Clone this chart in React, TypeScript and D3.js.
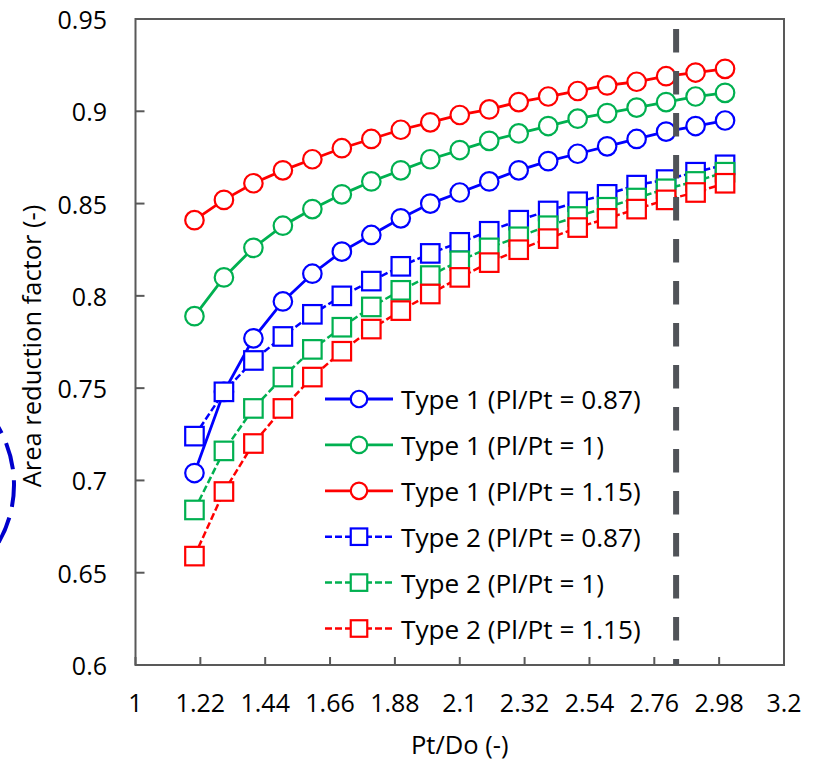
import React from "react";
import * as d3 from "d3";

const xValues = [1.2, 1.3, 1.4, 1.5, 1.6, 1.7, 1.8, 1.9, 2.0, 2.1, 2.2, 2.3, 2.4, 2.5, 2.6, 2.7, 2.8, 2.9, 3.0];
const type1_087 = [0.704, 0.748, 0.777, 0.797, 0.812, 0.824, 0.833, 0.842, 0.850, 0.856, 0.862, 0.868, 0.873, 0.877, 0.881, 0.885, 0.889, 0.892, 0.895];
const type1_1 = [0.789, 0.810, 0.826, 0.838, 0.847, 0.855, 0.862, 0.868, 0.874, 0.879, 0.884, 0.888, 0.892, 0.896, 0.899, 0.902, 0.905, 0.908, 0.910];
const type1_115 = [0.841, 0.852, 0.861, 0.868, 0.874, 0.880, 0.885, 0.890, 0.894, 0.898, 0.901, 0.905, 0.908, 0.911, 0.914, 0.916, 0.919, 0.921, 0.923];
const type2_087 = [0.724, 0.748, 0.765, 0.778, 0.790, 0.800, 0.808, 0.816, 0.823, 0.829, 0.835, 0.841, 0.846, 0.851, 0.855, 0.860, 0.863, 0.867, 0.871];
const type2_1 = [0.684, 0.716, 0.739, 0.756, 0.771, 0.783, 0.794, 0.803, 0.811, 0.819, 0.826, 0.832, 0.838, 0.843, 0.848, 0.853, 0.858, 0.862, 0.867];
const type2_115 = [0.659, 0.694, 0.720, 0.739, 0.756, 0.770, 0.782, 0.792, 0.801, 0.810, 0.818, 0.825, 0.831, 0.837, 0.842, 0.847, 0.852, 0.856, 0.861];

const seriesNames = [
  "Type 1 (Pl/Pt = 0.87)",
  "Type 1 (Pl/Pt = 1)",
  "Type 1 (Pl/Pt = 1.15)",
  "Type 2 (Pl/Pt = 0.87)",
  "Type 2 (Pl/Pt = 1)",
  "Type 2 (Pl/Pt = 1.15)",
];
const seriesValues = [type1_087, type1_1, type1_115, type2_087, type2_1, type2_115];
const seriesColors = ["#0000FF", "#00B050", "#FF0000", "#0000FF", "#00B050", "#FF0000"];
const seriesType = ["circle", "circle", "circle", "square", "square", "square"];

const xTicks = [1, 1.22, 1.44, 1.66, 1.88, 2.1, 2.32, 2.54, 2.76, 2.98, 3.2];
const yTicks = [0.6, 0.65, 0.7, 0.75, 0.8, 0.85, 0.9, 0.95];
const thresholdX = 2.834;

const W = 821;
const H = 763;
const left = 135.5;
const right = 784;
const top = 19;
const bottom = 665;
const FONT = "'Open Sans', sans-serif";
const AXIS = "#595959";

export default function App() {
  const x = d3.scaleLinear().domain([1, 3.2]).range([left, right]);
  const y = d3.scaleLinear().domain([0.6, 0.95]).range([bottom, top]);
  const line = d3
    .line<number>()
    .x((_, i) => x(xValues[i]))
    .y((d) => y(d));

  const legendX1 = 325;
  const legendX2 = 393;
  const legendY0 = 399;
  const legendStep = 45.9;

  const marker = (kind: string, cx: number, cy: number, color: string, size: number, key: string) =>
    kind === "circle" ? (
      <circle key={key} cx={cx} cy={cy} r={size / 2} fill="#fff" stroke={color} strokeWidth={2.2} />
    ) : (
      <rect key={key} x={cx - size / 2} y={cy - size / 2} width={size} height={size} fill="#fff" stroke={color} strokeWidth={2.2} />
    );

  return (
    <svg
      width={W}
      height={H}
      style={{ position: "absolute", left: 0, top: 0, background: "#fff" }}
      fontFamily={FONT}
    >
      <rect x={0} y={0} width={W} height={H} fill="#fff" />
      {/* annotation arc at left edge */}
      <circle cx={-101} cy={485} r={115} fill="none" stroke="#0000CC" strokeWidth={4} strokeDasharray="27,11" strokeDashoffset={5} />

      {/* frame */}
      <rect x={left} y={top} width={right - left} height={bottom - top} fill="none" stroke={AXIS} strokeWidth={2} />

      {/* y ticks */}
      {yTicks.map((t) => (
        <g key={"yt" + t}>
          <line x1={left} x2={left + 9} y1={y(t)} y2={y(t)} stroke={AXIS} strokeWidth={2} />
          <text x={107} y={y(t)} textAnchor="end" dominantBaseline="central" fontSize={25} fill="#000">
            {String(t)}
          </text>
        </g>
      ))}
      {/* x ticks */}
      {xTicks.map((t) => (
        <g key={"xt" + t}>
          <line x1={x(t)} x2={x(t)} y1={bottom} y2={bottom - 8} stroke={AXIS} strokeWidth={2} />
          <text x={x(t)} y={712} textAnchor="middle" fontSize={25} fill="#000">
            {String(t)}
          </text>
        </g>
      ))}

      <text x={(left + right) / 2} y={754} textAnchor="middle" fontSize={25.5} fill="#000">
        Pt/Do (-)
      </text>
      <text
        transform={`translate(41, 346) rotate(-90)`}
        textAnchor="middle"
        fontSize={25.5}
        fill="#000"
      >
        Area reduction factor (-)
      </text>

      {/* series */}
      {seriesValues.map((vals, si) => (
        <g key={"s" + si}>
          <path
            d={line(vals) || ""}
            fill="none"
            stroke={seriesColors[si]}
            strokeWidth={si < 3 ? 2.8 : 2.5}
            strokeDasharray={si < 3 ? undefined : "7,3"}
          />
          {vals.map((v, i) =>
            marker(seriesType[si], x(xValues[i]), y(v), seriesColors[si], 18.5, "m" + si + "-" + i)
          )}
        </g>
      ))}

      {/* legend */}
      {seriesNames.map((name, si) => {
        const ly = legendY0 + si * legendStep;
        return (
          <g key={"lg" + si}>
            <line
              x1={legendX1}
              x2={legendX2}
              y1={ly}
              y2={ly}
              stroke={seriesColors[si]}
              strokeWidth={si < 3 ? 2.8 : 2.5}
              strokeDasharray={si < 3 ? undefined : "7,3"}
            />
            {marker(seriesType[si], (legendX1 + legendX2) / 2, ly, seriesColors[si], 16.5, "lm" + si)}
            <text x={401} y={ly} dominantBaseline="central" fontSize={26.2} fill="#000">
              {name}
            </text>
          </g>
        );
      })}

      {/* threshold dashed line */}
      <line
        x1={x(thresholdX)}
        x2={x(thresholdX)}
        y1={top + 10}
        y2={bottom}
        stroke="#505358"
        strokeWidth={6}
        strokeDasharray="23.5,18.5"
      />
    </svg>
  );
}
